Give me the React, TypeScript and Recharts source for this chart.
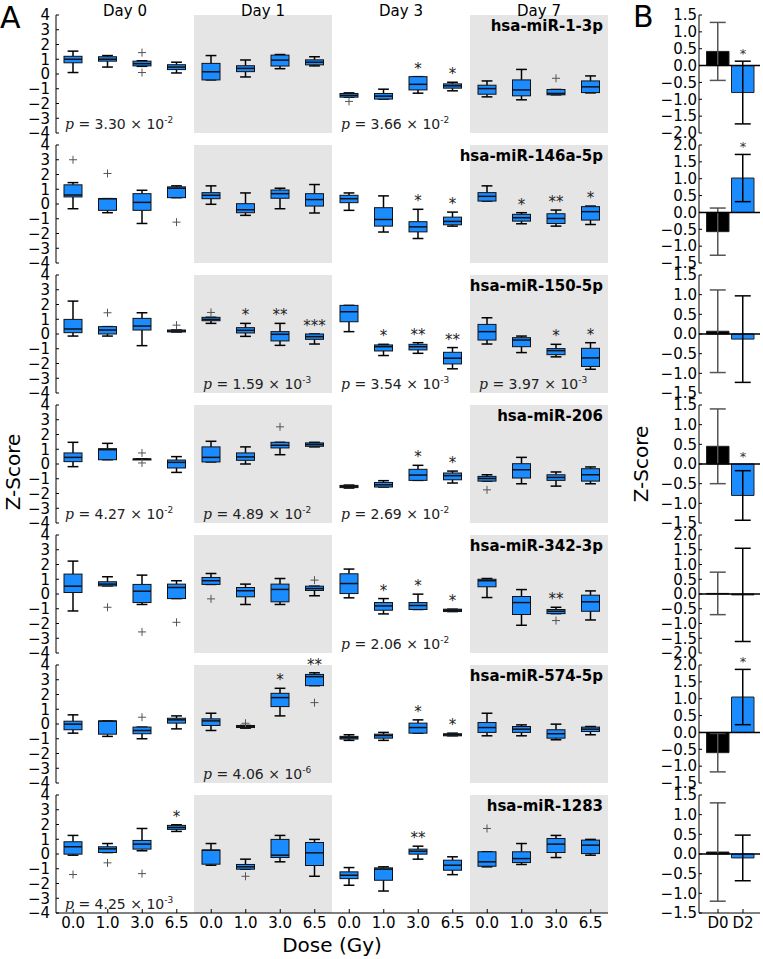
import React from "react";
import {
  ComposedChart,
  Bar,
  XAxis,
  YAxis,
  ReferenceArea,
  ReferenceLine,
  ReferenceDot,
  ErrorBar,
  Cell,
} from "recharts";

const FONT = "DejaVu Sans";
const BLUE = "#1a8cff";

// ---- panel A data ----
const DAYS = ["Day 0", "Day 1", "Day 3", "Day 7"];
const DOSES = ["0.0", "1.0", "3.0", "6.5"];
const GENES = [
  "hsa-miR-1-3p",
  "hsa-miR-146a-5p",
  "hsa-miR-150-5p",
  "hsa-miR-206",
  "hsa-miR-342-3p",
  "hsa-miR-574-5p",
  "hsa-miR-1283",
];
const Y_TICKS_A = [-4, -3, -2, -1, 0, 1, 2, 3, 4];

// each box: [whisker low, q1, median, q3, whisker high]
const BOX_MIR_1 = [
  [0.1, 0.76, 1.0, 1.2, 1.55], [0.47, 0.87, 1.0, 1.17, 1.25], [0.52, 0.55, 0.7, 0.87, 0.9], [0.07, 0.3, 0.47, 0.63, 0.8],
  [-0.4, -0.4, 0.15, 0.72, 1.25], [-0.2, 0.16, 0.38, 0.56, 0.95], [0.36, 0.54, 0.94, 1.28, 1.32], [0.55, 0.62, 0.8, 0.96, 1.17],
  [-1.57, -1.57, -1.45, -1.32, -1.28], [-1.7, -1.7, -1.5, -1.32, -1.03], [-1.3, -1.08, -0.7, -0.18, -0.18], [-1.14, -0.96, -0.8, -0.67, -0.56],
  [-1.55, -1.37, -0.99, -0.76, -0.47], [-1.75, -1.48, -1.08, -0.4, 0.31], [-1.41, -1.41, -1.32, -1.05, -1.05], [-1.28, -1.26, -0.87, -0.47, -0.13],
];
const BOX_MIR_146A = [
  [-0.32, 0.48, 0.61, 1.3, 1.45], [-0.59, -0.43, 0.36, 0.36, 0.36], [-1.32, -0.43, 0.11, 0.7, 0.93], [0.43, 0.43, 1.07, 1.16, 1.23],
  [-0.02, 0.36, 0.59, 0.77, 1.23], [-0.77, -0.59, -0.39, 0.02, 0.75], [-0.32, 0.39, 0.7, 0.95, 1.07], [-0.61, -0.14, 0.3, 0.7, 1.32],
  [-0.43, 0.09, 0.36, 0.59, 0.75], [-1.9, -1.5, -1.05, -0.25, 0.55], [-2.34, -1.89, -1.55, -1.2, -0.36], [-1.5, -1.41, -1.18, -0.89, -0.55],
  [0.2, 0.2, 0.52, 0.77, 1.23], [-1.34, -1.16, -0.93, -0.7, -0.59], [-1.5, -1.32, -0.98, -0.66, -0.41], [-1.39, -1.09, -0.52, -0.18, -0.14],
];
const BOX_MIR_150 = [
  [-0.14, 0.09, 0.34, 0.99, 2.23], [-0.14, 0, 0.27, 0.5, 0.5], [-0.79, 0.27, 0.54, 1.06, 1.44], [0.14, 0.14, 0.2, 0.27, 0.27],
  [0.72, 0.9, 0.99, 1.13, 1.13], [-0.16, 0.07, 0.25, 0.43, 0.72], [-0.77, -0.47, -0.02, 0.16, 0.72], [-0.68, -0.36, -0.18, 0, 0],
  [0.16, 0.83, 1.51, 1.94, 1.94], [-1.46, -1.15, -0.86, -0.74, -0.7], [-1.31, -1.08, -0.86, -0.7, -0.59], [-2.36, -2.03, -1.64, -1.24, -0.92],
  [-0.68, -0.41, 0.16, 0.65, 1.1], [-1.26, -0.86, -0.41, -0.25, -0.14], [-1.55, -1.4, -1.13, -0.99, -0.7], [-2.39, -2.2, -1.62, -0.97, -0.59],
];
const BOX_MIR_206 = [
  [-0.18, 0.16, 0.45, 0.75, 1.47], [0.29, 0.29, 0.97, 1.04, 1.4], [0.34, 0.34, 0.34, 0.34, 0.34], [-0.57, -0.27, 0.11, 0.27, 0.5],
  [0.14, 0.14, 0.45, 1.16, 1.54], [0, 0.25, 0.48, 0.75, 1.16], [0.63, 1.09, 1.27, 1.47, 1.47], [1.16, 1.2, 1.32, 1.43, 1.47],
  [-1.63, -1.6, -1.52, -1.45, -1.43], [-1.56, -1.56, -1.41, -1.25, -1.13], [-1.11, -1.11, -0.75, -0.36, -0.09], [-1.29, -1.07, -0.79, -0.61, -0.48],
  [-1.16, -1.16, -0.98, -0.84, -0.73], [-1.34, -0.95, -0.39, 0.02, 0.45], [-1.5, -1.11, -0.91, -0.73, -0.54], [-1.34, -1.16, -0.73, -0.32, -0.2],
];
const BOX_MIR_342 = [
  [-1.15, 0.1, 0.53, 1.35, 2.23], [0.55, 0.55, 0.67, 0.83, 1.17], [-0.71, -0.58, 0.19, 0.65, 1.28], [-0.31, -0.31, 0.44, 0.67, 0.9],
  [0.65, 0.65, 0.9, 1.12, 1.39], [-0.71, -0.19, 0.22, 0.44, 0.67], [-0.71, -0.53, 0.31, 0.67, 1.05], [-0.12, 0.24, 0.37, 0.53, 0.53],
  [-0.26, 0.03, 0.71, 1.37, 1.69], [-1.35, -1.1, -0.81, -0.58, -0.31], [-1.05, -1.05, -0.78, -0.58, -0.01], [-1.19, -1.19, -1.1, -1.03, -1.03],
  [-0.24, 0.49, 0.9, 1.0, 1.05], [-2.12, -1.39, -0.58, -0.17, 0.3], [-1.33, -1.33, -1.17, -1.05, -0.9], [-1.76, -1.17, -0.53, -0.08, 0.21],
];
const BOX_MIR_574 = [
  [-0.62, -0.39, -0.01, 0.19, 0.62], [-0.84, -0.69, 0.2, 0.2, 0.2], [-1.0, -0.66, -0.44, -0.21, -0.21], [-0.33, 0.06, 0.28, 0.39, 0.55],
  [-0.44, -0.1, 0.21, 0.35, 0.73], [-0.28, -0.24, -0.17, -0.1, -0.1], [0.55, 1.18, 1.79, 2.08, 2.42], [2.6, 2.6, 3.21, 3.36, 3.47],
  [-1.11, -1.02, -0.93, -0.84, -0.73], [-1.11, -0.96, -0.78, -0.69, -0.57], [-0.62, -0.62, -0.24, 0.06, 0.28], [-0.8, -0.8, -0.73, -0.66, -0.62],
  [-0.8, -0.57, -0.24, 0.1, 0.73], [-0.8, -0.57, -0.35, -0.17, -0.06], [-1.07, -0.96, -0.66, -0.39, -0.01], [-0.73, -0.51, -0.35, -0.21, -0.17],
];
const BOX_MIR_1283 = [
  [-0.08, -0.01, 0.49, 0.83, 1.26], [0.1, 0.1, 0.35, 0.49, 0.71], [0.22, 0.33, 0.67, 0.92, 1.73], [1.53, 1.67, 1.8, 1.94, 1.98],
  [-0.76, -0.69, 0.26, 0.26, 0.71], [-1.03, -1.03, -0.87, -0.71, -0.35], [-0.53, -0.24, -0.08, 0.99, 1.26], [-1.51, -0.78, 0.08, 0.78, 0.99],
  [-2.12, -1.67, -1.44, -1.21, -0.92], [-2.51, -1.78, -1.03, -0.94, -0.87], [-0.35, -0.01, 0.19, 0.33, 0.53], [-1.4, -1.1, -0.76, -0.42, -0.19],
  [-0.87, -0.83, -0.53, 0.15, 0.15], [-0.71, -0.58, -0.31, 0.15, 0.71], [-0.24, 0.1, 0.67, 1.05, 1.26], [-0.08, 0.03, 0.6, 0.94, 0.99],
];
const BOXES = [BOX_MIR_1, BOX_MIR_146A, BOX_MIR_150, BOX_MIR_206, BOX_MIR_342, BOX_MIR_574, BOX_MIR_1283];

// outliers: [box index, value]
const OUT_MIR_1 = [[2, 1.45], [2, 0.1], [8, -1.86], [14, -0.29]];
const OUT_MIR_146A = [[0, 3.0], [1, 2.07], [3, -1.23]];
const OUT_MIR_150 = [[1, 1.44], [3, 0.6], [4, 1.46]];
const OUT_MIR_206 = [[2, 0.75], [2, 0.07], [6, 2.52], [12, -1.75]];
const OUT_MIR_342 = [[1, -0.9], [2, -2.57], [3, -1.92], [4, -0.33], [7, 0.94], [14, -1.8]];
const OUT_MIR_574 = [[2, 0.46], [5, 0.05], [7, 1.45]];
const OUT_MIR_1283 = [[0, -1.39], [1, -0.6], [2, -1.33], [5, -1.51], [12, 1.73]];
const OUTLIERS = [OUT_MIR_1, OUT_MIR_146A, OUT_MIR_150, OUT_MIR_206, OUT_MIR_342, OUT_MIR_574, OUT_MIR_1283];

const STAR_MIR_1 = ["", "", "", "", "", "", "", "", "", "", "*", "*", "", "", "", ""];
const STAR_MIR_146A = ["", "", "", "", "", "", "", "", "", "", "*", "*", "", "*", "**", "*"];
const STAR_MIR_150 = ["", "", "", "", "", "*", "**", "***", "", "*", "**", "**", "", "", "*", "*"];
const STAR_MIR_206 = ["", "", "", "", "", "", "", "", "", "", "*", "*", "", "", "", ""];
const STAR_MIR_342 = ["", "", "", "", "", "", "", "", "", "*", "*", "*", "", "", "**", ""];
const STAR_MIR_574 = ["", "", "", "", "", "", "*", "**", "", "", "*", "*", "", "", "", ""];
const STAR_MIR_1283 = ["", "", "", "*", "", "", "", "", "", "", "**", "", "", "", "", ""];
const STARS = [STAR_MIR_1, STAR_MIR_146A, STAR_MIR_150, STAR_MIR_206, STAR_MIR_342, STAR_MIR_574, STAR_MIR_1283];

// p-values per day group: [mantissa, exponent]
const P_MIR_1 = [["3.30", "-2"], null, ["3.66", "-2"], null];
const P_MIR_146A = [null, null, null, null];
const P_MIR_150 = [null, ["1.59", "-3"], ["3.54", "-3"], ["3.97", "-3"]];
const P_MIR_206 = [["4.27", "-2"], ["4.89", "-2"], ["2.69", "-2"], null];
const P_MIR_342 = [null, null, ["2.06", "-2"], null];
const P_MIR_574 = [null, ["4.06", "-6"], null, null];
const P_MIR_1283 = [["4.25", "-3"], null, null, null];
const PVALUES: any[] = [P_MIR_1, P_MIR_146A, P_MIR_150, P_MIR_206, P_MIR_342, P_MIR_574, P_MIR_1283];

// ---- panel B data ----
const B_CATS = ["D0", "D2"];
const B_COLORS = ["#000000", BLUE];
const B_MEAN = [[0.42, -0.8], [-0.57, 1.02], [0.07, -0.13], [0.45, -0.8], [0.02, -0.03], [-0.6, 1.05], [0.05, -0.1]];
const B_ERR = [[0.86, 0.93], [0.7, 0.7], [1.05, 1.1], [0.95, 0.63], [0.72, 1.58], [0.57, 0.82], [1.25, 0.58]];
const B_STAR = ["*", "*", "", "*", "", "*", ""];
const B_DOMAIN = [[-2, 1.5], [-1.5, 2], [-1.5, 1.5], [-1.5, 1.5], [-2, 2], [-1.5, 2], [-1.5, 1.5]];
const B_X_DOMAIN = [-0.76, 1.68];

// ---- layout ----
const Y_MIN = -4;
const Y_MAX = 4;
const PLOT_H = 118;
const M_TOP = 14;
const M_BOT = 8;
const ROW_PITCH = 130;
const FIRST_TOP = 15;
const AXIS_H = 24;

const minus = (s: string) => s.replace("-", "\u2212");

function BoxShape(props: any) {
  const { x, y, width, height, payload } = props;
  const [lo, q1, med, q3, hi] = payload.box;
  const py = (v: number) => y + ((Y_MAX - v) / (Y_MAX - Y_MIN)) * height;
  const cx = x + width / 2;
  const cap = width * 0.3;
  const outs: number[] = payload.outliers;
  const top = Math.min(py(hi), ...outs.map(py));
  return (
    <g>
      <line x1={cx} x2={cx} y1={py(hi)} y2={py(q3)} stroke="#000" strokeWidth={1.5} />
      <line x1={cx} x2={cx} y1={py(q1)} y2={py(lo)} stroke="#000" strokeWidth={1.5} />
      <line x1={cx - cap} x2={cx + cap} y1={py(hi)} y2={py(hi)} stroke="#000" strokeWidth={1.5} />
      <line x1={cx - cap} x2={cx + cap} y1={py(lo)} y2={py(lo)} stroke="#000" strokeWidth={1.5} />
      <rect x={x} y={py(q3)} width={width} height={Math.max(py(q1) - py(q3), 1)} fill={BLUE} stroke="#111" strokeWidth={1} />
      <line x1={x} x2={x + width} y1={py(med)} y2={py(med)} stroke="#111" strokeWidth={1.5} />
      {outs.map((o, i) => (
        <g key={i} stroke="#555" strokeWidth={1}>
          <line x1={cx - 4} x2={cx + 4} y1={py(o)} y2={py(o)} />
          <line x1={cx} x2={cx} y1={py(o) - 4} y2={py(o) + 4} />
        </g>
      ))}
      {payload.star && (
        <text x={cx} y={top - 3} textAnchor="middle" fontSize={15} fontFamily={FONT} fill="#222">
          {payload.star}
        </text>
      )}
    </g>
  );
}

function GroupLabel(props: any) {
  const { viewBox, g, r } = props;
  if (!viewBox) return null;
  const { x, y, width, height } = viewBox;
  const p = PVALUES[r][g];
  return (
    <g fontFamily={FONT}>
      {r === 0 && (
        <text x={x + width / 2} y={y + 1} textAnchor="middle" fontSize={15} fill="#000">
          {DAYS[g]}
        </text>
      )}
      {g === 3 && (
        <text x={x + width - 5} y={y + 16} textAnchor="end" fontSize={15} fontWeight="bold" fill="#000">
          {GENES[r]}
        </text>
      )}
      {p && (
        <text x={x + 9} y={y + height - 4} fontSize={14} fill="#222">
          <tspan fontFamily="DejaVu Serif" fontStyle="italic">p</tspan>
          <tspan>{` = ${p[0]} \u00d7 10`}</tspan>
          <tspan dy={-6} fontSize={9}>{p[1]}</tspan>
        </text>
      )}
    </g>
  );
}

function YTick(props: any) {
  const { x, y, payload, gap, fmt } = props;
  return (
    <g>
      <line x1={x + gap} x2={x + gap + 3} y1={y} y2={y} stroke="#000" />
      <text x={x} y={y} dy="0.35em" textAnchor="end" fontSize={15} fontFamily={FONT} fill="#000">
        {fmt(payload.value)}
      </text>
    </g>
  );
}

function XTick(props: any) {
  const { x, y, payload, labels } = props;
  return (
    <g>
      <line x1={x} x2={x} y1={y - 4} y2={y - 8} stroke="#000" />
      <text x={x} y={y + 11} textAnchor="middle" fontSize={15} fontFamily={FONT} fill="#000">
        {labels[payload.value]}
      </text>
    </g>
  );
}

function BoxRow({ r }: { r: number }) {
  const last = r === BOXES.length - 1;
  const data = BOXES[r].map((box, i) => ({
    idx: i,
    range: [Y_MIN, Y_MAX],
    box,
    outliers: OUTLIERS[r].filter((o) => o[0] === i).map((o) => o[1]),
    star: STARS[r][i],
  }));
  const doseLabels = data.map((d) => DOSES[d.idx % 4]);
  return (
    <ComposedChart
      width={612}
      height={M_TOP + PLOT_H + (last ? AXIS_H + 4 : M_BOT)}
      data={data}
      margin={{ top: M_TOP, right: 4, bottom: last ? 4 : M_BOT, left: 0 }}
    >
      <XAxis
        dataKey="idx"
        type="category"
        hide={!last}
        height={AXIS_H}
        axisLine={{ stroke: "#000" }}
        tickLine={false}
        tickSize={0}
        tickMargin={4}
        interval={0}
        tick={<XTick labels={doseLabels} />}
      />
      <YAxis
        domain={[Y_MIN, Y_MAX]}
        ticks={Y_TICKS_A}
        interval={0}
        width={56}
        axisLine={{ stroke: "#000" }}
        tickLine={false}
        tickSize={0}
        tickMargin={6}
        tick={<YTick gap={6} fmt={(v: number) => minus(String(v))} />}
      />
      {DAYS.map((d, g) => (
        <ReferenceArea
          key={d}
          x1={g * 4}
          x2={g * 4 + 3}
          fill={g % 2 === 1 ? "#e5e5e5" : "none"}
          fillOpacity={1}
          stroke="none"
          label={<GroupLabel g={g} r={r} />}
        />
      ))}
      <Bar dataKey="range" barSize={18} isAnimationActive={false} shape={(p: any) => <BoxShape {...p} />} />
    </ComposedChart>
  );
}

function StarLabel(props: any) {
  const { viewBox } = props;
  if (!viewBox) return null;
  return (
    <text x={viewBox.x + (viewBox.width || 0) / 2} y={viewBox.y - 3} textAnchor="middle" fontSize={13} fontFamily={FONT} fill="#333">
      *
    </text>
  );
}

function MeanRow({ r }: { r: number }) {
  const last = r === B_MEAN.length - 1;
  const data = B_CATS.map((c, i) => ({
    pos: i,
    mean: B_MEAN[r][i],
    e0: i === 0 ? B_ERR[r][0] : undefined,
    e2: i === 1 ? B_ERR[r][1] : undefined,
  }));
  const [lo, hi] = B_DOMAIN[r];
  const ticks: number[] = [];
  for (let v = lo; v <= hi + 1e-9; v += 0.5) ticks.push(Number(v.toFixed(1)));
  // the significance mark sits above the error bar, never below zero
  const starAt = Math.max(B_MEAN[r][1] + B_ERR[r][1], 0);
  return (
    <ComposedChart
      width={108}
      height={M_TOP + PLOT_H + (last ? AXIS_H + 4 : M_BOT)}
      data={data}
      margin={{ top: M_TOP, right: 3, bottom: last ? 4 : M_BOT, left: 0 }}
    >
      <XAxis
        dataKey="pos"
        type="number"
        domain={B_X_DOMAIN}
        ticks={[0, 1]}
        hide={!last}
        height={AXIS_H}
        axisLine={{ stroke: "#000" }}
        tickLine={false}
        tickSize={0}
        tickMargin={4}
        interval={0}
        tick={<XTick labels={B_CATS} />}
      />
      <YAxis
        domain={[lo, hi]}
        ticks={ticks}
        interval={0}
        width={44}
        allowDataOverflow
        axisLine={{ stroke: "#000" }}
        tickLine={false}
        tickSize={0}
        tickMargin={2}
        tick={<YTick gap={2} fmt={(v: number) => minus(v.toFixed(1))} />}
      />
      <Bar dataKey="mean" barSize={25} isAnimationActive={false} stroke="#222" strokeWidth={1}>
        {data.map((d, i) => (
          <Cell key={i} fill={B_COLORS[i]} />
        ))}
        <ErrorBar dataKey="e0" width={8} stroke="#555" strokeWidth={1.5} />
        <ErrorBar dataKey="e2" width={8} stroke="#000" strokeWidth={1.5} />
      </Bar>
      <ReferenceLine y={0} stroke="#000" strokeWidth={1.5} />
      {B_STAR[r] && (
        <ReferenceDot x={1} y={starAt} r={0} fill="none" stroke="none" label={<StarLabel />} />
      )}
    </ComposedChart>
  );
}

export default function App() {
  return (
    <div style={{ position: "absolute", left: 0, top: 0, width: 763, height: 959, background: "#fff" }}>
      {BOXES.map((_, r) => (
        <div key={r} style={{ position: "absolute", left: 0, top: FIRST_TOP + r * ROW_PITCH - M_TOP }}>
          <BoxRow r={r} />
        </div>
      ))}
      {B_MEAN.map((_, r) => (
        <div key={r} style={{ position: "absolute", left: 655, top: FIRST_TOP + r * ROW_PITCH - M_TOP }}>
          <MeanRow r={r} />
        </div>
      ))}
      <svg width={763} height={959} style={{ position: "absolute", left: 0, top: 0, pointerEvents: "none" }} fontFamily={FONT}>
        <text x={0} y={28} fontSize={30} fill="#000">A</text>
        <text x={633} y={27} fontSize={30} fill="#000">B</text>
        <text x={20} y={472} fontSize={20} textAnchor="middle" transform="rotate(-90 20 472)" fill="#000">Z-Score</text>
        <text x={648} y={464} fontSize={20} textAnchor="middle" transform="rotate(-90 648 464)" fill="#000">Z-Score</text>
        <text x={332} y={952} fontSize={20} textAnchor="middle" fill="#000">Dose (Gy)</text>
      </svg>
    </div>
  );
}
